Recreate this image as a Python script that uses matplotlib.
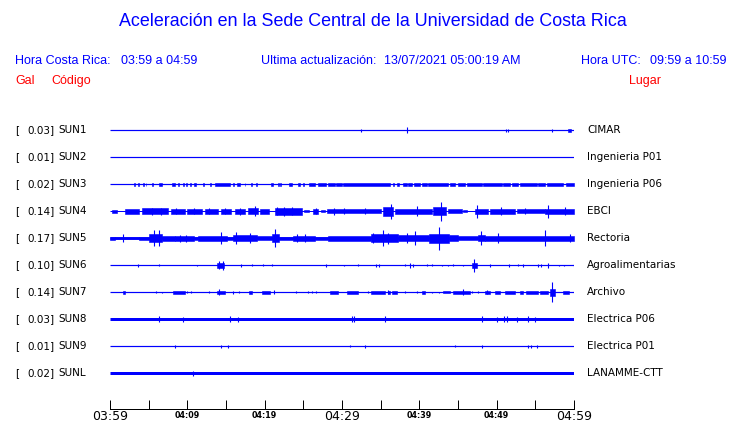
import matplotlib
matplotlib.use("Agg")
import matplotlib.pyplot as plt

# ---------------- data ----------------
gal = [0.03, 0.01, 0.02, 0.14, 0.17, 0.10, 0.14, 0.03, 0.01, 0.02]
codes = ["SUN1", "SUN2", "SUN3", "SUN4", "SUN5", "SUN6", "SUN7", "SUN8", "SUN9", "SUNL"]
places = ["CIMAR", "Ingenieria P01", "Ingenieria P06", "EBCI", "Rectoria",
          "Agroalimentarias", "Archivo", "Electrica P06", "Electrica P01", "LANAMME-CTT"]
tick_minutes = list(range(0, 61, 5))
tick_labels = ["03:59", "", "04:09", "", "04:19", "", "04:29", "", "04:39", "", "04:49", "", "04:59"]

# baseline half-amplitude of each trace (display units)
base_amp = [0.6, 0.6, 0.6, 0.5, 1.3, 0.6, 0.6, 1.5, 0.6, 1.5]

# bursts: (start minute, end minute, half amplitude)
sun1_bursts = [(59.2, 59.6, 1.5)]
sun2_bursts = []
sun3_bursts = [(s, e, 1.3) for s, e in [
    (3.1, 3.2), (3.6, 3.7), (4.3, 4.4), (4.6, 4.7), (5.45, 5.6), (6.38, 6.68), (8.06, 8.41),
    (8.75, 8.92), (9.45, 9.52), (9.78, 9.96), (10.4, 10.47), (10.9, 11.08), (11.98, 12.2),
    (12.89, 13.06), (13.58, 15.52), (15.86, 16.08), (16.42, 16.81), (17.42, 17.5), (18.19, 18.32),
    (18.84, 18.97), (20.78, 21.12), (21.73, 21.8), (22.03, 22.1), (23.15, 23.49), (24.35, 24.57),
    (25.0, 25.08), (25.78, 26.51), (26.94, 27.89), (28.15, 29.09), (29.22, 29.96), (30.17, 36.21),
    (36.6, 36.68), (37.16, 37.41), (37.84, 38.36), (38.58, 39.0), (39.35, 40.09), (40.3, 40.95),
    (41.16, 43.75), (43.97, 44.61), (45.04, 45.9), (46.12, 48.06), (48.28, 50.65), (50.86, 51.72),
    (52.03, 52.8), (53.02, 55.17), (55.39, 56.25), (56.47, 58.62), (58.92, 60.0)]]
sun4_bursts = [(0.3, 0.9, 1.2), (2.0, 3.75, 2.3), (4.1, 7.5, 3.0), (7.9, 9.7, 2.3), (9.9, 11.9, 2.5),
               (12.3, 14.0, 2.5), (14.4, 15.7, 2.5), (16.2, 17.5, 2.8), (17.9, 19.2, 3.0),
               (19.4, 20.5, 2.3), (21.3, 24.8, 3.2), (25.1, 25.7, 1.0), (26.2, 26.9, 2.3),
               (27.3, 27.8, 1.0), (28.0, 35.1, 2.0), (35.3, 36.6, 4.5), (36.9, 41.6, 2.5),
               (41.8, 43.5, 4.0), (43.75, 45.5, 2.0), (45.7, 46.1, 1.0), (47.2, 48.9, 2.8),
               (49.1, 52.4, 2.5), (52.6, 56.2, 2.0), (56.2, 60.0, 2.8)]
sun5_bursts = [(0.0, 0.6, 1.7), (0.6, 3.7, 1.0), (3.7, 5.0, 1.5), (5.0, 6.7, 4.0), (6.7, 8.4, 2.5),
               (8.4, 10.8, 2.5), (10.8, 11.4, 1.3), (11.4, 15.1, 2.5), (15.1, 15.9, 1.5),
               (15.9, 19.0, 3.0), (19.0, 20.9, 2.0), (20.9, 21.8, 4.0), (21.8, 23.7, 1.5),
               (23.7, 26.5, 2.5), (26.5, 28.2, 1.5), (28.2, 33.8, 2.8), (33.8, 37.3, 4.0),
               (37.3, 41.2, 3.0), (41.2, 43.8, 4.5), (43.8, 45.0, 3.0), (45.0, 47.6, 2.0),
               (47.6, 48.5, 3.0), (48.5, 50.2, 2.5), (50.2, 56.2, 2.3), (56.2, 60.0, 2.5)]
sun6_bursts = [(13.8, 14.7, 2.5), (46.8, 47.4, 2.5)]
sun7_bursts = [(1.7, 2.0, 1.3), (8.2, 9.7, 1.3), (13.8, 14.9, 1.5), (18.0, 18.3, 1.3), (19.7, 20.7, 1.5),
               (28.4, 29.5, 1.3), (30.6, 32.1, 1.3), (33.7, 35.6, 1.5), (35.9, 36.2, 1.5),
               (36.5, 37.1, 1.3), (40.4, 40.7, 1.3), (43.1, 44.0, 1.0), (44.4, 46.6, 1.5),
               (48.5, 49.1, 1.5), (49.8, 50.4, 1.3), (51.1, 52.4, 1.3), (53.0, 53.4, 1.5),
               (53.8, 55.4, 1.3), (55.6, 56.7, 1.5), (56.9, 57.5, 3.5), (58.6, 59.3, 1.3)]
sun8_bursts = []
sun9_bursts = []
sunl_bursts = []

# spikes: (minute, half amplitude)
sun1_spikes = [(32.4, 1.5), (38.4, 3.0), (51.2, 1.3), (51.5, 1.3), (57.1, 1.3)]
sun2_spikes = []
sun3_spikes = []
sun4_spikes = [(5.4, 3.5), (6.6, 3.5), (8.5, 3.0), (10.9, 3.0), (12.8, 3.0), (14.9, 3.0), (16.8, 3.5),
               (18.7, 5.0), (21.6, 4.0), (22.5, 4.5), (23.5, 4.0), (26.6, 3.0), (29.0, 3.3),
               (30.3, 3.0), (33.0, 3.0), (36.3, 7.7), (39.7, 5.0), (42.8, 9.3), (47.5, 6.3),
               (50.6, 4.0), (53.7, 3.0), (56.7, 6.3), (58.8, 4.0)]
sun5_spikes = [(1.7, 4.0), (5.7, 8.0), (6.4, 8.0), (9.0, 3.5), (9.8, 3.5), (14.35, 6.0), (16.3, 6.0),
               (18.1, 5.0), (21.3, 9.0), (24.2, 4.0), (25.2, 4.0), (34.0, 5.0), (35.3, 8.0),
               (36.0, 5.5), (38.4, 5.0), (39.4, 7.0), (42.5, 11.7), (48.0, 7.0), (50.2, 5.0),
               (56.2, 8.0), (59.5, 4.0)]
sun6_spikes = [(3.6, 1.3), (6.3, 1.0), (11.3, 0.8), (14.1, 4.0), (14.6, 4.5), (17.0, 1.3), (18.3, 1.0),
               (19.8, 1.0), (20.9, 1.0), (27.9, 1.3), (30.3, 0.8), (32.1, 1.0), (34.4, 1.3),
               (34.8, 1.3), (38.1, 1.0), (38.8, 2.5), (39.2, 1.3), (41.0, 1.0), (41.7, 1.0),
               (42.9, 0.8), (43.7, 0.8), (44.4, 1.0), (45.7, 0.8), (47.1, 6.7), (49.2, 1.3),
               (51.6, 1.3), (52.8, 1.0), (53.4, 1.3), (55.3, 1.3), (55.7, 1.3), (56.6, 2.3),
               (58.0, 0.8), (58.75, 0.8), (60.0, 1.3)]
sun7_spikes = [(5.9, 1.0), (6.7, 0.8), (10.0, 1.0), (10.5, 1.0), (12.8, 1.0), (14.1, 3.0), (15.9, 1.3),
               (16.7, 1.0), (21.25, 2.0), (24.0, 1.0), (25.6, 1.0), (26.1, 1.0), (26.6, 1.0),
               (33.3, 1.0), (35.9, 2.0), (38.1, 1.0), (39.7, 1.0), (41.7, 0.8), (42.5, 0.8),
               (45.7, 3.0), (46.8, 1.0), (47.6, 1.0), (48.8, 2.0), (57.2, 10.0), (60.0, 1.0)]
sun8_spikes = [(6.4, 3.0), (9.5, 2.5), (15.5, 3.0), (16.5, 2.5), (31.25, 3.0), (31.5, 3.0), (35.6, 3.0),
               (48.1, 3.0), (50.1, 2.5), (50.9, 3.0), (51.3, 3.0), (52.6, 2.5), (54.1, 3.0), (55.0, 2.5)]
sun9_spikes = [(8.4, 1.3), (14.4, 1.3), (15.2, 1.3), (31.0, 1.0), (33.0, 1.3), (44.6, 1.0), (48.1, 1.3),
               (54.0, 1.3), (54.4, 1.3), (55.2, 1.5)]
sunl_spikes = [(10.7, 2.5)]

bursts = [sun1_bursts, sun2_bursts, sun3_bursts, sun4_bursts, sun5_bursts,
          sun6_bursts, sun7_bursts, sun8_bursts, sun9_bursts, sunl_bursts]
spikes = [sun1_spikes, sun2_spikes, sun3_spikes, sun4_spikes, sun5_spikes,
          sun6_spikes, sun7_spikes, sun8_spikes, sun9_spikes, sunl_spikes]

# ---------------- figure ----------------
W, H = 740, 423
BLUE = "#0000FF"
RED = "#FF0000"
PT = 72.0 / 100.0  # points per pixel

fig = plt.figure(figsize=(W / 100, H / 100), dpi=100)
fig.patch.set_facecolor("white")


def fx(x):
    return x / W


def fy(y):
    return 1 - y / H


HDR = "Liberation Sans"
fig.text(fx(373), fy(22), "Aceleración en la Sede Central de la Universidad de Costa Rica",
         color=BLUE, fontsize=12.9, family=HDR, ha="center", va="center")
fig.text(fx(15), fy(61), "Hora Costa Rica:", color=BLUE, fontsize=9, family=HDR, va="center")
fig.text(fx(121), fy(61), "03:59 a 04:59", color=BLUE, fontsize=9, family=HDR, va="center")
fig.text(fx(261), fy(61), "Ultima actualización:", color=BLUE, fontsize=9, family=HDR, va="center")
fig.text(fx(384), fy(61), "13/07/2021 05:00:19 AM", color=BLUE, fontsize=9, family=HDR, va="center")
fig.text(fx(581), fy(61), "Hora UTC:", color=BLUE, fontsize=9, family=HDR, va="center")
fig.text(fx(650), fy(61), "09:59 a 10:59", color=BLUE, fontsize=9, family=HDR, va="center")
fig.text(fx(15), fy(81), "Gal", color=RED, fontsize=9, family=HDR, va="center")
fig.text(fx(51), fy(81), "Código", color=RED, fontsize=9, family=HDR, va="center")
fig.text(fx(629), fy(81), "Lugar", color=RED, fontsize=9, family=HDR, va="center")

# trace area: x 110..574 px, y 110..409 px ; y axis in pixel units (downwards)
ax = fig.add_axes([fx(110), fy(409), (574 - 110) / W, (409 - 110) / H])
ax.set_xlim(0, 60)
ax.set_ylim(409, 110)
ax.set_facecolor("none")
for s in ["top", "left", "right"]:
    ax.spines[s].set_visible(False)
ax.spines["bottom"].set_color("black")
ax.spines["bottom"].set_linewidth(1.0 * PT)
ax.set_yticks([])
ax.set_xticks(tick_minutes)
ax.tick_params(axis="x", direction="in", length=9 * PT, width=1.0 * PT, color="black",
               labelbottom=False)

row0, step = 130.3, 27.0
for i in range(len(codes)):
    yc = row0 + step * i
    ax.hlines(yc, 0, 60, color=BLUE, lw=2 * base_amp[i] * PT)
    for s, e, a in bursts[i]:
        ax.fill_between([s, e], yc - a, yc + a, color=BLUE, lw=0.4)
    for m, a in spikes[i]:
        ax.vlines(m, yc - a, yc + a, color=BLUE, lw=1.1 * PT)
    # labels
    fig.text(fx(15), fy(yc), "[", fontsize=7.5, family="DejaVu Sans", va="center")
    fig.text(fx(27.3), fy(yc), f"{gal[i]:.2f}]", fontsize=7.5, family="DejaVu Sans", va="center")
    fig.text(fx(58.7), fy(yc), codes[i], fontsize=7.5, family="DejaVu Sans", va="center")
    fig.text(fx(587), fy(yc), places[i], fontsize=7.5, family="DejaVu Sans", va="center")

for m, lab in zip(tick_minutes, tick_labels):
    if not lab:
        continue
    big = m % 30 == 0
    ax.text(m, 416.5 if big else 415.5, lab, ha="center", va="center", clip_on=False,
            fontsize=9 if big else 5.8, fontweight="normal" if big else "bold",
            family="DejaVu Sans", color="black")

fig.savefig("out.png", dpi=100)
